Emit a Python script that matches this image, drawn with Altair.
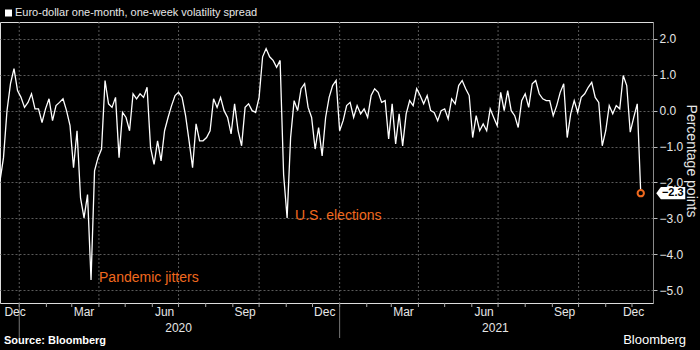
import altair as alt
import pandas as pd

# ---------------- data ----------------
start_date = "2019-12-10"
step = "4D"
spread = [
    -1.96, -1.31, 0.00, 0.75, 1.17, 0.56, 0.37, 0.09, 0.23, 0.47,
    0.05, 0.05, -0.33, 0.05, 0.33, -0.28, 0.14, 0.23, 0.33, 0.00,
    -0.42, -1.59, -0.56, -2.43, -2.99, -2.34, -4.72, -1.68, -1.31, -1.07,
    0.84, 0.19, 0.09, 0.37, -1.31, -0.05, -0.19, -0.56, 0.47, 0.33,
    0.47, 0.37, 0.65, -1.03, -1.50, -0.84, -1.40, -0.56, -0.19, 0.14,
    0.42, 0.51, 0.37, -0.14, -0.84, -1.59, -0.37, -0.84, -0.84, -0.75,
    -0.56, 0.33, 0.09, 0.37, 0.00, -0.19, -0.65, 0.19, -0.56, -0.98,
    0.09, 0.19, 0.00, -0.05, 0.37, 1.50, 1.73, 1.50, 1.40, 1.21,
    1.40, -1.78, -2.99, -0.75, 0.28, 0.00, 0.61, 0.75, 0.09, -0.19,
    -1.07, -0.47, -1.26, -0.19, 0.37, 0.70, 0.84, -0.56, -0.28, 0.14,
    0.23, -0.19, 0.14, -0.09, 0.05, -0.19, 0.42, 0.61, 0.51, 0.23,
    0.28, -0.79, 0.19, -0.93, -0.09, -0.98, -0.09, 0.28, 0.14, 0.61,
    0.42, 0.19, 0.42, 0.00, -0.05, -0.28, 0.00, 0.05, -0.23, 0.33,
    0.19, 0.70, 0.84, 0.61, 0.42, -0.75, -0.14, -0.56, -0.37, -0.56,
    0.05, -0.19, -0.42, 0.51, 0.00, 0.56, 0.00, -0.14, -0.47, 0.28,
    0.47, 0.09, 0.75, 0.84, 0.47, 0.33, 0.28, 0.28, -0.14, 0.14,
    0.51, 0.75, -0.75, -0.09, 0.28, -0.05, 0.37, 0.47, 0.65, 0.79,
    0.37, 0.23, -0.98, -0.56, 0.14, -0.09, 0.14, 0.05, 0.98, 0.70,
    -0.60, -0.19, 0.19, -2.30,
]

title_text = "Euro-dollar one-month, one-week volatility spread"
y_title = "Percentage points"
y_ticks = [-5, -4, -3, -2, -1, 0, 1, 2]

month_label_dates = ["2019-12-15", "2020-03-15", "2020-06-15", "2020-09-15", "2020-12-15",
                     "2021-03-15", "2021-06-15", "2021-09-15", "2021-12-15"]
month_labels = ["Dec", "Mar", "Jun", "Sep", "Dec", "Mar", "Jun", "Sep", "Dec"]
month_tick_dates = pd.date_range("2020-01-01", "2021-12-01", freq="MS")
grid_dates = pd.date_range("2020-01-01", "2021-10-01", freq="QS")
year_sep_dates = ["2020-01-01", "2021-01-01"]
year_label_dates = ["2020-07-01", "2021-06-28"]
year_labels = ["2020", "2021"]

ann_dates_idx = [26, 82]
ann_texts = ["Pandemic jitters", "U.S. elections"]

source_text = "Source: Bloomberg"
brand_text = "Bloomberg"

# ---------------- build tables ----------------
dates = pd.date_range(start_date, periods=len(spread), freq=step)
df = pd.DataFrame({"date": dates, "value": spread})
last_df = df.tail(1)
ann_df = pd.DataFrame({
    "date": [dates[i] for i in ann_dates_idx],
    "value": [spread[i] for i in ann_dates_idx],
    "label": ann_texts,
})
tick_df = pd.DataFrame({"date": month_tick_dates})
grid_df = pd.DataFrame({"date": grid_dates})
ysep_df = pd.DataFrame({"date": pd.to_datetime(year_sep_dates)})
ylab_df = pd.DataFrame({"date": pd.to_datetime(year_label_dates), "label": year_labels})
mlab_df = pd.DataFrame({"date": pd.to_datetime(month_label_dates), "label": month_labels,
                        "i": list(range(len(month_labels)))})
n_m = len(month_labels)

W, H = 653, 281
ORANGE = "#f0691e"
TXT = "#e6e6e6"
FONT = "Liberation Sans"

x_scale = alt.Scale(domain=[alt.DateTime(year=2019, month=12, date=10),
                            alt.DateTime(year=2021, month=12, date=25)], nice=False)
y_scale = alt.Scale(domain=[-5.36, 2.47], nice=False, zero=False)

x_axis = alt.Axis(labels=False, ticks=False, grid=False, domainColor="#8a8a8a", title=None)
y_axis = alt.Axis(
    orient="right", values=y_ticks, format=".1f", grid=True, gridColor="#5a5a5a",
    gridDash=[2, 2], domainColor="#8a8a8a", tickColor="#bbbbbb", tickSize=4,
    labelColor=TXT, labelFontSize=12, labelPadding=2, labelFont=FONT,
    title=y_title, titleColor=TXT, titleFontSize=14, titleFontWeight="normal",
    titleFont=FONT, titleAngle=90, titleX=37, titleY=H / 2 - 2,
    titleAlign="center", titleBaseline="middle",
)

X = lambda: alt.X("date:T", scale=x_scale, axis=None)

grid = alt.Chart(grid_df).mark_rule(color="#5a5a5a", strokeDash=[2, 2], strokeWidth=1).encode(x=X())
ticks = alt.Chart(tick_df).mark_rule(color="#aaaaaa").encode(
    x=X(), y=alt.value(H), y2=alt.value(H + 4))
ysep = alt.Chart(ysep_df).mark_rule(color="#777777").encode(
    x=X(), y=alt.value(H), y2=alt.value(H + 35))
ylab = alt.Chart(ylab_df).mark_text(color=TXT, fontSize=12, font=FONT, baseline="middle").encode(
    x=X(), y=alt.value(H + 25), text="label:N")

mbase = alt.Chart(mlab_df)
mkw = dict(color=TXT, fontSize=12, font=FONT, baseline="middle")
mfirst = mbase.mark_text(align="left", **mkw).encode(
    x=X(), y=alt.value(H + 9), text="label:N").transform_filter("datum.i == 0")
mmid = mbase.mark_text(align="center", **mkw).encode(
    x=X(), y=alt.value(H + 9), text="label:N").transform_filter(f"datum.i > 0 && datum.i < {n_m - 1}")
mlast = mbase.mark_text(align="right", **mkw).encode(
    x=X(), y=alt.value(H + 9), text="label:N").transform_filter(f"datum.i == {n_m - 1}")

line = alt.Chart(df).mark_line(color="white", strokeWidth=1.3).encode(
    x=alt.X("date:T", scale=x_scale, axis=x_axis),
    y=alt.Y("value:Q", scale=y_scale, axis=y_axis),
)

ann = alt.Chart(ann_df).mark_text(align="left", baseline="middle", dx=8, dy=-2,
                                  color=ORANGE, fontSize=14, font=FONT).encode(
    x=X(), y=alt.Y("value:Q", scale=y_scale), text="label:N")

dot = alt.Chart(last_df).mark_point(shape="circle", size=40, stroke=ORANGE, strokeWidth=2,
                                    fill="black", filled=False, fillOpacity=1, opacity=1).encode(
    x=X(), y=alt.Y("value:Q", scale=y_scale))

box_path = "M -1 0 L -0.68 -0.42 L 1 -0.42 L 1 0.42 L -0.68 0.42 Z"
box = alt.Chart(last_df).mark_point(shape=box_path, size=841, filled=True, fill="white",
                                    opacity=1, strokeWidth=0, xOffset=30).encode(
    x=X(), y=alt.Y("value:Q", scale=y_scale))
box_text = alt.Chart(last_df).mark_text(dx=32, color="black", fontSize=11, font=FONT,
                                        fontWeight="bold", baseline="middle").encode(
    x=X(), y=alt.Y("value:Q", scale=y_scale), text=alt.Text("value:Q", format=".1f"))

hdr = pd.DataFrame({"t": [title_text]})
title_sq = alt.Chart(hdr).mark_square(size=49, color="white", opacity=1).encode(
    x=alt.value(8.5), y=alt.value(-9))
title = alt.Chart(hdr).mark_text(align="left", baseline="middle", color=TXT, fontSize=11,
                                 font=FONT).encode(x=alt.value(15), y=alt.value(-9), text="t:N")
src = alt.Chart(pd.DataFrame({"t": [source_text]})).mark_text(
    align="left", baseline="middle", color="white", fontSize=11, fontWeight="bold", font=FONT
).encode(x=alt.value(4), y=alt.value(H + 38), text="t:N")
brand = alt.Chart(pd.DataFrame({"t": [brand_text]})).mark_text(
    align="right", baseline="middle", color="white", fontSize=13, font=FONT
).encode(x=alt.value(686), y=alt.value(H + 37), text="t:N")

chart = alt.layer(
    grid, ticks, ysep, ylab, mfirst, mmid, mlast, line, ann, dot, box, box_text,
    title_sq, title, src, brand
).properties(
    width=W, height=H,
    autosize=alt.AutoSizeParams(type="none"),
    padding={"left": 0, "top": 22, "right": 47, "bottom": 47},
    background="black",
).configure_view(stroke=None).configure(font=FONT)

chart.save("out.html", embed_options={"renderer": "svg", "actions": False})
